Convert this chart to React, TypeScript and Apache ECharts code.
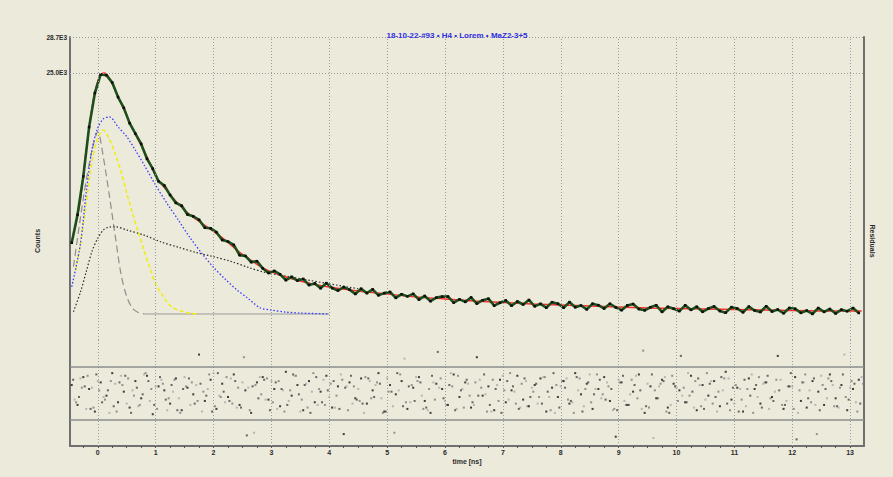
import React, { useEffect, useRef } from "react";
import * as echarts from "echarts";

const BG = "#ECEADB";
const TITLE = "18-10-22-#93 • H4 • Lorem • MaZ2-3+5";
const X_TICKS = [0, 1, 2, 3, 4, 5, 6, 7, 8, 9, 10, 11, 12, 13];
const Y_LABELS = [25000, 28700];
const RES_LIMITS = [2, -2];

// measured decay (channel start / width in ns)
const DATA_START = -0.45;
const DATA_STEP = 0.1;
const dataCounts = [
  7530, 10410, 14360, 19430, 22940, 24850, 24770, 24010, 22520, 21410,
  19840, 18750, 17700, 16170, 15150, 13850, 13420, 12440, 11630, 11340,
  10440, 10250, 9900, 9080, 9020,
  8620, 7820, 7650, 7310, 6260, 6180, 5540, 5640, 4900, 4420,
  4630, 4290, 3680, 4030, 3640, 3810, 3180, 3350, 2850, 3380,
  2870, 2620, 2970, 2710, 2260, 2810, 2350, 2740, 2130, 2350,
  2470, 1860, 2240, 2020, 2280, 1680, 2060, 1520, 1890, 1990,
  2010, 1370, 1710, 1450, 1910, 1270, 1620, 1780, 1060, 1360,
  1600, 1060, 1490, 1180, 1650, 1000, 1250, 850, 1420, 1270,
  850, 1430, 900, 1080, 680, 1260, 1110, 770, 1260, 880,
  600, 1090, 1230, 710, 580, 900, 1100, 420, 940, 750,
  500, 1100, 630, 950, 430, 770, 980, 510, 340, 910,
  770, 380, 970, 560, 410, 1000, 460, 660, 280, 830,
  740, 320, 560, 210, 820, 420, 720, 255, 650, 490,
  820, 310,
];

// fit
const fitTime = [-0.45, -0.4, -0.35, -0.3, -0.25, -0.2, -0.15, -0.1, -0.05, 0, 0.05, 0.1, 0.15, 0.2, 0.3, 0.4, 0.5, 0.6, 0.7, 0.8, 0.9, 1.0, 1.1, 1.2, 1.3, 1.4, 1.5, 1.6, 1.7, 1.8, 1.9, 2.0, 2.2, 2.4, 2.6, 2.8, 3.0, 3.25, 3.5, 3.75, 4.0, 4.5, 5.0, 5.5, 6.0, 6.5, 7.0, 7.5, 8.0, 8.5, 9.0, 9.5, 10.0, 10.5, 11.0, 11.5, 12.0, 12.5, 13.0, 13.2];
const fitCounts = [7610, 8850, 10290, 11930, 14510, 17080, 19340, 21400, 23050, 24180, 24790, 25000, 24900, 24490, 23250, 21910, 20580, 19340, 18110, 16980, 15740, 14400, 13580, 12860, 12140, 11470, 10910, 10390, 9930, 9520, 9110, 8690, 7820, 6790, 5920, 5140, 4530, 4010, 3600, 3240, 2980, 2570, 2260, 1960, 1750, 1540, 1390, 1240, 1130, 1030, 930, 820, 770, 720, 670, 620, 570, 520, 510, 510];

// components
const blueTime = [-0.45, -0.3, -0.2, -0.1, 0, 0.1, 0.2, 0.35, 0.5, 0.65, 0.8, 1.0, 1.2, 1.4, 1.6, 1.8, 2.0, 2.2, 2.4, 2.6, 2.8, 3.0, 3.25, 3.5, 4.0];
const blueCounts = [3000, 7400, 12700, 17100, 19350, 20300, 20480, 19450, 18450, 17050, 15550, 13450, 11550, 9800, 8000, 6430, 5000, 3800, 2700, 1800, 850, 600, 400, 300, 210];

const yellowTime = [-0.38, -0.3, -0.2, -0.1, 0, 0.1, 0.2, 0.3, 0.4, 0.5, 0.6, 0.7, 0.8, 0.9, 1.0, 1.1, 1.2, 1.3, 1.45, 1.6, 1.75];
const yellowCounts = [4700, 7400, 11500, 15900, 18300, 19140, 18200, 16700, 14900, 12650, 10600, 8650, 6700, 4950, 3300, 2300, 1400, 840, 480, 280, 210];

const grayTime = [-0.42, -0.3, -0.2, -0.1, 0, 0.1, 0.2, 0.3, 0.4, 0.5, 0.6, 0.7, 0.8];
const grayCounts = [5070, 10100, 13950, 17050, 18950, 16200, 12400, 8300, 4350, 2000, 800, 350, 210];
const baseTime = [0.8, 4.0];
const baseCounts = [206, 206];

const blackTime = [-0.42, -0.3, -0.2, -0.1, 0, 0.1, 0.2, 0.3, 0.5, 0.8, 1.1, 1.4, 1.7, 2.0, 2.3, 2.6, 2.9, 3.2, 3.6, 4.0, 4.5];
const blackCounts = [440, 2450, 4550, 6650, 8000, 8860, 9150, 9180, 8850, 8320, 7600, 7060, 6530, 6100, 5620, 5000, 4460, 4150, 3730, 3310, 2800];

// residuals
const RES_STEP = 0.1;
const RES_A_START = -0.45;
const RES_B_START = -0.4;
const RES_C_START = -0.425;
const RES_D_START = -0.375;
const residualsA = [
  0.6, -0.9, 1.2, 0.3, -1.4, 0.8, -0.2, 1.5, -0.7, 0.1,
  -1.1, 0.9, -0.4, 1.3, -1.6, 0.5, 0.2, -0.8, 1.1, -1.3,
  0.4, -0.1, 2.9, -0.6, 1.0, -1.2, 0.7, -0.3, 1.4, -0.9,
  0.2, -1.5, 0.8, 1.2, -0.5, 0.3, -1.0, 1.6, -0.2, 0.6,
  -1.3, 0.9, -0.7, 0.1, 1.3, -1.1, 0.5, -3.1, 0.8, -0.4,
  1.1, -0.8, 0.2, 1.5, -1.4, 0.6, -0.1, 0.9, -1.2, 0.4,
  1.2, -0.6, -1.5, 0.7, 0.3, -0.9, 1.4, -0.3, 0.8, -1.1,
  2.7, -0.2, 0.5, -1.3, 1.0, -0.7, 0.2, 1.3, -0.5, -1.0,
  0.6, 1.1, -1.4, 0.4, -0.3, 0.9, -0.8, 1.5, -0.1, 0.7,
  -1.2, 0.3, 1.2, -0.6, -3.3, 0.8, -0.9, 0.1, 1.4, -1.5,
  0.5, -0.4, 1.0, -1.1, 0.7, 0.2, -0.7, 1.3, -1.3, 0.6,
  -0.2, 0.9, -1.0, 1.6, -0.5, 0.4, -1.4, 1.1, 0.3, -0.8,
  0.8, -0.3, 2.8, -1.2, 0.5, 1.2, -0.6, -1.1, 0.9, 0.1,
  -0.9, 1.4, -0.4, 0.6, -1.3, 0.3, 1.0,
];
const residualsB = [
  -0.5, 1.1, -1.2, 0.4, 0.9, -0.3, -1.5, 0.7, 1.3, -0.8,
  0.2, -1.0, 1.4, -0.6, 0.5, 1.0, -1.3, 0.1, -0.4, 1.2,
  -0.9, 0.6, -1.4, 0.3, 1.5, -0.2, -0.7, 1.1, -1.1, 0.8,
  0.4, -3.0, 1.2, -0.5, 0.9, -1.2, 0.2, -0.6, 1.3, -1.4,
  0.7, 0.1, -0.9, 1.0, -0.3, -1.1, 1.4, 0.5, -0.8, 0.3,
  -1.5, 0.9, 0.6, -0.4, 1.1, -1.0, 0.2, 2.6, -0.7, 1.2,
  -0.2, -1.3, 0.8, 0.4, -0.6, 1.5, -1.2, 0.3, 0.7, -0.9,
  1.0, -0.1, -1.4, 0.6, 1.3, -0.5, 0.1, -1.1, 0.9, 0.4,
  -0.8, 1.2, -0.3, -1.5, 0.5, 1.1, -0.7, 0.2, -1.0, 1.4,
  0.3, -0.4, 0.8, -1.3, 1.0, -0.6, -0.1, 1.3, -1.2, 0.7,
  -3.4, 0.5, 1.2, -0.9, 0.4, -0.2, 1.5, -1.1, 0.6, -0.5,
  0.9, -1.4, 0.2, 1.1, -0.8, 0.3, -1.0, 1.4, -0.3, 0.7,
  -1.2, 0.1, 1.0, -0.6, 0.5, -1.5, 0.8, 0.2, -0.9, 1.3,
  -0.4, 0.6, -1.1, 2.9, 0.4, -0.7, 1.2,
];
const residualsC = [
  1.0, -0.3, 0.5, -1.2, 1.4, -0.7, 0.2, -1.0, 0.8, 1.3,
  -1.5, 0.4, -0.1, 0.9, -0.9, 1.2, -0.5, 0.6, -1.3, 0.3,
  1.1, -0.8, 0.7, -0.2, -1.4, 1.5, 0.1, -0.6, 0.9, -1.1,
  -3.2, 0.5, -0.4, 1.0, -1.3, 0.8, 0.3, -0.9, 1.4, -0.1,
  0.6, -1.5, 1.2, -0.7, 0.2, 0.9, -1.2, 0.4, 1.3, -0.5,
  -0.8, 1.1, -0.3, 0.7, -1.4, 0.1, 1.5, -1.0, 0.5, -0.6,
  0.8, -1.1, 1.3, 3.1, -0.4, 0.6, -1.3, 0.2, 1.0, -0.7,
  -0.2, 1.4, -0.9, 0.3, -1.5, 0.9, 0.5, -1.2, 1.1, -0.3,
  0.7, -0.8, 0.1, 1.5, -1.1, 0.4, -0.6, 1.2, -1.4, 0.8,
  -0.1, 1.0, -0.5, 0.3, -1.3, 1.3, -0.9, 0.6, 0.2, -1.0,
  1.4, -0.4, 0.9, -1.5, 0.5, 2.8, -0.7, 0.1, 1.1, -1.2,
  0.7, -0.3, 1.2, -0.8, 0.4, -1.4, 1.0, -0.2, 0.6, -1.1,
  1.3, -0.6, 0.2, -0.9, 1.5, -3.5, 0.8, -0.4, 1.1, -1.3,
  0.3, 0.9, -1.0, 1.4, -0.5, 0.7, -0.8,
];
const residualsD = [
  -0.7, 0.4, 1.3, -1.1, 0.2, -0.5, 0.9, -1.4, 0.6, 1.1,
  -0.2, -0.9, 1.5, 0.3, -1.2, 0.7, -0.4, 1.0, -1.5, 0.5,
  0.8, -0.6, 0.1, 1.4, -1.0, -0.3, 1.2, -0.8, 0.4, 2.7,
  -1.3, 0.6, -0.1, 1.1, -0.7, 0.9, -1.4, 0.2, 1.3, -0.5,
  -1.1, 1.5, 0.3, -0.9, 0.7, -0.2, 1.0, -1.3, 0.5, -0.6,
  1.2, -0.4, 0.8, -1.5, 0.1, -3.0, 1.4, -0.7, 0.6, 0.9,
  -1.2, 0.3, -0.5, 1.1, -0.9, 0.5, 1.3, -1.1, -0.2, 0.8,
  0.4, -1.4, 1.0, -0.6, 0.2, 1.5, -0.8, 0.7, -1.0, 0.1,
  -0.3, 1.2, -1.3, 0.6, 0.9, -0.5, -1.5, 1.1, 0.3, -0.7,
  1.4, -0.1, 0.5, -1.2, 0.8, -0.9, 1.0, -0.4, 3.2, -1.1,
  0.2, 0.7, -1.4, 1.3, -0.6, 0.4, -0.2, 0.9, -1.0, 1.5,
  -0.8, 0.1, 1.1, -1.3, 0.6, -0.5, 0.3, -1.5, 1.2, 0.8,
  -0.4, 1.0, -0.9, 0.5, -1.2, 0.2, 1.4, -0.7, -3.1, 0.6,
  1.1, -1.0, 0.4, -0.3, 0.9, -1.4, 0.7,
];

const X_MIN = -0.48;
const X_MAX = 13.24;
const Y1_MIN = -2470;
const Y1_MAX = 28700;
const Y2_MIN = -4;
const Y2_MAX = 4;

const pair = (xs: number[], ys: number[]) => xs.map((x, i) => [x, ys[i]]);
const channel = (start: number, step: number, ys: number[]) =>
  ys.map((y, i) => [Math.round((start + i * step) * 1000) / 1000, y]);

const FONT = "'Liberation Sans', Arial, sans-serif";
const AXIS_COLOR = "#707070";

export default function App() {
  const ref = useRef<HTMLDivElement>(null);
  useEffect(() => {
    const chart = echarts.init(ref.current!, null, { renderer: "svg" });
    const minorTicks: number[] = [];
    for (let q = -1; q <= 52; q++) minorTicks.push(q * 0.25);

    const frameAxis = (gridIndex: number, min: number, max: number, position: "left" | "right", extra: any = {}) => ({
      type: "value",
      gridIndex,
      position,
      min,
      max,
      axisLine: { show: true, onZero: false, lineStyle: { color: AXIS_COLOR, width: 2 } },
      axisTick: { show: false },
      axisLabel: { show: false },
      splitLine: { show: false },
      ...extra,
    });

    const gridMarks = {
      silent: true,
      symbol: ["none", "none"],
      label: { show: false },
      lineStyle: { type: [1, 2], color: "#9c9c9c", width: 1 },
    };

    const resSeries = (start: number, values: number[], color: string) => ({
      type: "scatter",
      xAxisIndex: 1,
      yAxisIndex: 2,
      data: channel(start, RES_STEP, values),
      symbol: "rect",
      symbolSize: 2,
      itemStyle: { color },
      clip: false,
    });

    const option: any = {
      animation: false,
      backgroundColor: BG,
      title: {
        text: TITLE,
        left: 452,
        top: 26,
        textAlign: "center",
        textStyle: { fontSize: 8, fontWeight: "bold", color: "#2f2fe0", fontFamily: FONT },
      },
      grid: [
        { left: 70, top: 37, width: 794, height: 303 },
        { left: 70, top: 340, width: 794, height: 106 },
      ],
      xAxis: [
        {
          type: "value",
          gridIndex: 0,
          min: X_MIN,
          max: X_MAX,
          axisLine: { show: false },
          axisTick: { show: false },
          axisLabel: { show: false },
          splitLine: { show: false },
        },
        {
          type: "value",
          gridIndex: 1,
          min: X_MIN,
          max: X_MAX,
          axisLine: { show: true, onZero: false, lineStyle: { color: AXIS_COLOR, width: 2 } },
          axisTick: { show: true, customValues: minorTicks, length: 2, lineStyle: { color: "#555", width: 1 } },
          axisLabel: {
            customValues: X_TICKS,
            fontSize: 7,
            fontWeight: "bold",
            color: "#2a2a2a",
            margin: 3,
            fontFamily: FONT,
          },
          splitLine: { show: false },
          name: "time [ns]",
          nameLocation: "middle",
          nameGap: 12,
          nameTextStyle: { fontSize: 7, fontWeight: "bold", color: "#2a2a2a", fontFamily: FONT },
        },
      ],
      yAxis: [
        frameAxis(0, Y1_MIN, Y1_MAX, "left", {
          axisLabel: {
            show: true,
            customValues: Y_LABELS,
            formatter: (v: number) => (v / 1000).toFixed(1) + "E3",
            fontSize: 6.5,
            fontWeight: "bold",
            color: "#2a2a2a",
            margin: 3,
            fontFamily: FONT,
          },
        }),
        frameAxis(0, Y1_MIN, Y1_MAX, "right"),
        frameAxis(1, Y2_MIN, Y2_MAX, "left"),
        frameAxis(1, Y2_MIN, Y2_MAX, "right"),
      ],
      graphic: [
        {
          type: "text",
          x: 37,
          y: 241,
          rotation: Math.PI / 2,
          style: { text: "Counts", fontSize: 7, fontWeight: "bold", fill: "#2a2a2a", align: "center", verticalAlign: "middle", fontFamily: FONT },
        },
        {
          type: "text",
          x: 872,
          y: 241,
          rotation: -Math.PI / 2,
          style: { text: "Residuals", fontSize: 7, fontWeight: "bold", fill: "#2a2a2a", align: "center", verticalAlign: "middle", fontFamily: FONT },
        },
      ],
      series: [
        {
          type: "line",
          xAxisIndex: 0,
          yAxisIndex: 0,
          data: [],
          markLine: {
            ...gridMarks,
            data: [...X_TICKS.map((v) => ({ xAxis: v })), ...Y_LABELS.map((v) => ({ yAxis: v }))],
          },
        },
        {
          type: "line",
          xAxisIndex: 1,
          yAxisIndex: 2,
          data: [],
          markLine: { ...gridMarks, data: X_TICKS.map((v) => ({ xAxis: v })) },
        },
        {
          type: "line",
          xAxisIndex: 1,
          yAxisIndex: 2,
          data: [],
          markLine: {
            silent: true,
            symbol: ["none", "none"],
            label: { show: false },
            lineStyle: { type: "solid", color: "#8c8c8c", width: 1.5 },
            data: RES_LIMITS.map((v) => ({ yAxis: v })),
          },
        },
        {
          name: "baseline",
          type: "line",
          xAxisIndex: 0,
          yAxisIndex: 0,
          data: pair(baseTime, baseCounts),
          showSymbol: false,
          lineStyle: { color: "#9a9a9a", width: 1 },
        },
        {
          name: "IRF",
          type: "line",
          xAxisIndex: 0,
          yAxisIndex: 0,
          data: pair(grayTime, grayCounts),
          showSymbol: false,
          smooth: 0.3,
          lineStyle: { color: "#8e8e8e", width: 1.2, type: [7, 4] },
        },
        {
          name: "slow",
          type: "line",
          xAxisIndex: 0,
          yAxisIndex: 0,
          data: pair(blackTime, blackCounts),
          showSymbol: false,
          smooth: 0.3,
          lineStyle: { color: "#2a2a2a", width: 1.2, type: [1.5, 2] },
        },
        {
          name: "mid",
          type: "line",
          xAxisIndex: 0,
          yAxisIndex: 0,
          data: pair(yellowTime, yellowCounts),
          showSymbol: false,
          smooth: 0.3,
          lineStyle: { color: "#eeee10", width: 1.5, type: [4, 2.5] },
        },
        {
          name: "fast",
          type: "line",
          xAxisIndex: 0,
          yAxisIndex: 0,
          data: pair(blueTime, blueCounts),
          showSymbol: false,
          smooth: 0.3,
          lineStyle: { color: "#3b3bff", width: 1.3, type: [1.5, 2] },
        },
        {
          name: "fit",
          type: "line",
          xAxisIndex: 0,
          yAxisIndex: 0,
          data: pair(fitTime, fitCounts),
          showSymbol: false,
          smooth: 0.3,
          lineStyle: { color: "#ff2a2a", width: 1.4 },
        },
        {
          name: "data",
          type: "line",
          xAxisIndex: 0,
          yAxisIndex: 0,
          data: channel(DATA_START, DATA_STEP, dataCounts),
          showSymbol: true,
          symbol: "rect",
          symbolSize: 2.5,
          itemStyle: { color: "#0d0d0d" },
          lineStyle: { color: "#1d4f1d", width: 2.6 },
        },
        resSeries(RES_B_START, residualsB, "#a8a8a8"),
        resSeries(RES_D_START, residualsD, "#7a7a7a"),
        resSeries(RES_A_START, residualsA, "#111111"),
        resSeries(RES_C_START, residualsC, "#444444"),
      ],
    };
    chart.setOption(option);
    return () => chart.dispose();
  }, []);
  return (
    <div
      ref={ref}
      style={{ position: "fixed", left: 0, top: 0, width: 893, height: 477, background: BG }}
    />
  );
}
